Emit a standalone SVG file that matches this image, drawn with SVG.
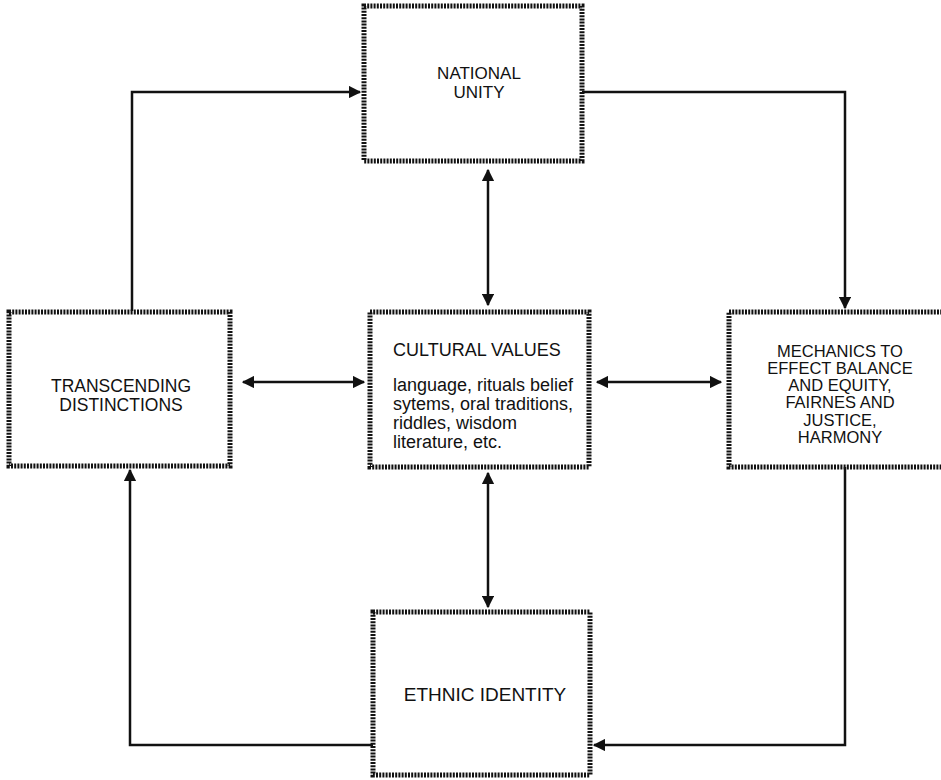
<svg xmlns="http://www.w3.org/2000/svg" width="941" height="780" viewBox="0 0 941 780">
<style>
.box{fill:#fff;stroke:#111;stroke-width:5;stroke-dasharray:2 1.2}
.t{font-family:"Liberation Sans",Arial,sans-serif;font-size:17px;fill:#111;text-anchor:middle}
.m{font-family:"Liberation Sans",Arial,sans-serif;font-size:16.5px;fill:#111;text-anchor:middle}
.b{font-family:"Liberation Sans",Arial,sans-serif;font-size:18px;fill:#111}
.c{fill:none;stroke:#111;stroke-width:2.5}
</style>
<defs>
<marker id="ah" viewBox="0 0 10 10" refX="9" refY="5" markerWidth="5" markerHeight="5" markerUnits="strokeWidth" orient="auto-start-reverse">
<path d="M0,0 L10,5 L0,10 z" fill="#111"/>
</marker>
</defs>
<rect width="941" height="780" fill="#fff"/>
<g id="connectors">
<path class="c" d="M132,311 V92 H360" marker-end="url(#ah)"/>
<path class="c" d="M582,92 H845 V308" marker-end="url(#ah)"/>
<path class="c" d="M845,467 V745 H594" marker-end="url(#ah)"/>
<path class="c" d="M373,745 H130 V470" marker-end="url(#ah)"/>
<path class="c" d="M488,170 V305" marker-start="url(#ah)" marker-end="url(#ah)"/>
<path class="c" d="M488,473 V607" marker-start="url(#ah)" marker-end="url(#ah)"/>
<path class="c" d="M243,382 H364" marker-start="url(#ah)" marker-end="url(#ah)"/>
<path class="c" d="M597,382 H721" marker-start="url(#ah)" marker-end="url(#ah)"/>
</g>
<g id="national-unity">
<rect class="box" x="364" y="6" width="218" height="155"/>
<text class="t" x="479" y="79">NATIONAL</text>
<text class="t" x="479" y="98">UNITY</text>
</g>
<g id="transcending-distinctions">
<rect class="box" x="9" y="312" width="221" height="154"/>
<text class="t" x="121" y="392" style="font-size:17.5px">TRANSCENDING</text>
<text class="t" x="121" y="411" style="font-size:17.5px">DISTINCTIONS</text>
</g>
<g id="cultural-values">
<rect class="box" x="370" y="312" width="219" height="155"/>
<text class="b" x="393" y="356">CULTURAL VALUES</text>
<text class="b" x="393" y="391">language, rituals belief</text>
<text class="b" x="393" y="410">sytems, oral traditions,</text>
<text class="b" x="393" y="429">riddles, wisdom</text>
<text class="b" x="393" y="448">literature, etc.</text>
</g>
<g id="mechanics">
<rect class="box" x="729" y="312" width="240" height="155"/>
<text class="m" x="840" y="357">MECHANICS TO</text>
<text class="m" x="840" y="374">EFFECT BALANCE</text>
<text class="m" x="840" y="391">AND EQUITY,</text>
<text class="m" x="840" y="408">FAIRNES AND</text>
<text class="m" x="840" y="426">JUSTICE,</text>
<text class="m" x="840" y="443">HARMONY</text>
</g>
<g id="ethnic-identity">
<rect class="box" x="373" y="612" width="217" height="163"/>
<text class="t" x="485" y="701" style="font-size:19px">ETHNIC IDENTITY</text>
</g>
</svg>
